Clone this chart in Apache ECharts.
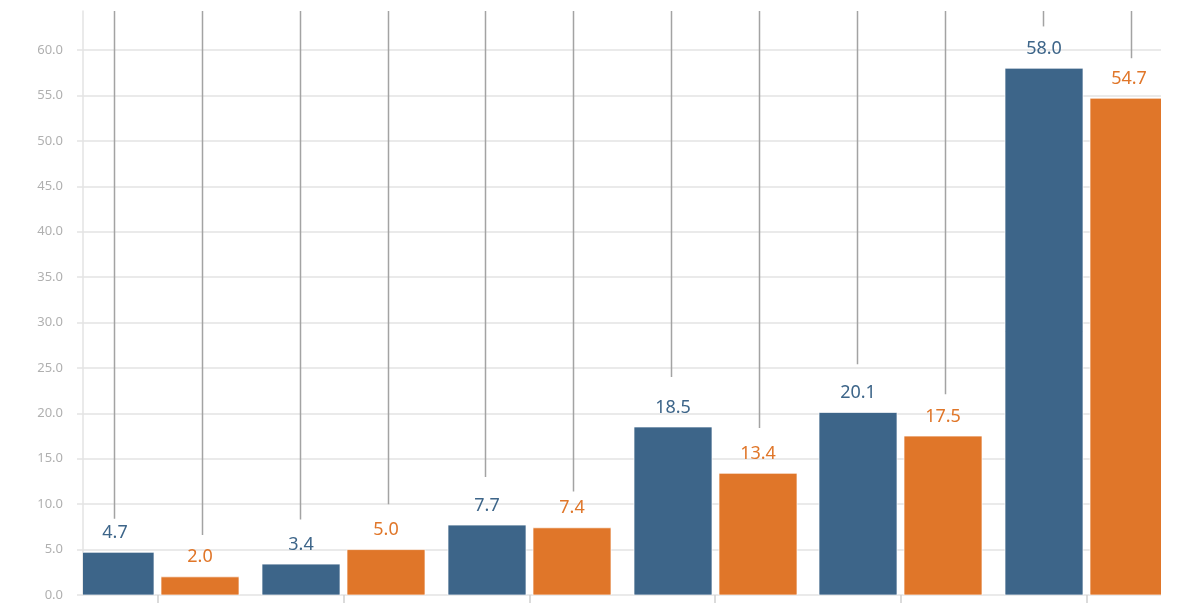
<!DOCTYPE html>
<html>
<head>
<meta charset="utf-8">
<script src="https://cdn.jsdelivr.net/npm/echarts@6/dist/echarts.min.js"></script>
<style>
html,body{margin:0;padding:0;background:#fff;}
#chart{width:1200px;height:615px;}
</style>
</head>
<body>
<div id="chart"></div>
<script>
// Groups (no visible category names in the reference)
const categories = ["G1", "G2", "G3", "G4", "G5", "G6"];
// Series values
const seriesA = [4.7, 3.4, 7.7, 18.5, 20.1, 58.0];
const seriesB = [2.0, 5.0, 7.4, 13.4, 17.5, 54.7];
// End values of the thin vertical guide lines
const guideA = [8.4, 8.3, 13.0, 24.0, 25.4, 62.6];
const guideB = [6.6, 10.0, 11.4, 18.4, 22.1, 59.1];
// Axis ranges
const yMin = 0, yMax = 64.3, yInterval = 5;
const xMin = -0.403, xMax = 5.40;

const BLUE = '#3d6589';
const ORANGE = '#e07629';
const BAR_W = 78, GAP = 7;
const OFF = (BAR_W + GAP) / 2;
const GUIDE_OFF = 44;
const labelFont = "'Noto Sans', 'Open Sans', sans-serif";

const idx = categories.map((c, i) => i);
const dataA = idx.map(i => [i, seriesA[i]]);
const dataB = idx.map(i => [i, seriesB[i]]);
const gA = idx.map(i => [i, guideA[i]]);
const gB = idx.map(i => [i, guideB[i]]);

function guideRenderer(offset) {
  return function (params, api) {
    const p = api.coord([api.value(0), api.value(1)]);
    const top = api.coord([api.value(0), yMax]);
    const x = Math.round(p[0] + offset) + 0.5;
    return {
      type: 'line',
      shape: { x1: x, y1: top[1], x2: x, y2: p[1] },
      style: { stroke: '#a3a3a3', lineWidth: 1.5 }
    };
  };
}

function barRenderer(offset, color) {
  return function (params, api) {
    const v = api.value(1);
    const p = api.coord([api.value(0), v]);
    const base = api.coord([api.value(0), 0]);
    const cx = p[0] + offset;
    return {
      type: 'rect',
      shape: { x: Math.round(cx - BAR_W / 2), y: p[1], width: BAR_W, height: base[1] - p[1] },
      style: { fill: color, stroke: 'rgba(255,255,255,0.7)', lineWidth: 1 },
      textContent: {
        style: {
          text: v.toFixed(1),
          fill: color,
          fontSize: 18,
          fontFamily: labelFont
        }
      },
      textConfig: { position: 'top', distance: 10 }
    };
  };
}

const chart = echarts.init(document.getElementById('chart'), null, { renderer: 'canvas' });
chart.setOption({
  animation: false,
  backgroundColor: '#ffffff',
  grid: { left: 83, right: 39, top: 11, bottom: 20, containLabel: false },
  xAxis: {
    type: 'value',
    min: xMin,
    max: xMax,
    axisLine: { show: false },
    splitLine: { show: false },
    axisLabel: { show: false },
    axisTick: {
      show: true,
      customValues: idx,
      length: 8,
      lineStyle: { color: '#d0d0d0', width: 1.5 }
    }
  },
  yAxis: {
    type: 'value',
    min: yMin,
    max: yMax,
    interval: yInterval,
    axisLine: { show: true, onZero: false, lineStyle: { color: '#e3e3e3', width: 1.5 } },
    axisTick: { show: true, length: 6, lineStyle: { color: '#e3e3e3', width: 1.5 } },
    splitLine: { show: true, showMaxLine: false, lineStyle: { color: '#e3e3e3', width: 1.5 } },
    axisLabel: {
      showMaxLabel: false,
      margin: 20,
      color: '#b0b0b0',
      fontSize: 13,
      fontFamily: labelFont,
      formatter: v => v.toFixed(1)
    }
  },
  series: [
    {
      type: 'custom',
      renderItem: guideRenderer(-GUIDE_OFF),
      data: gA,
      encode: { x: 0, y: 1 },
      clip: true,
      z: 1,
      silent: true
    },
    {
      type: 'custom',
      renderItem: guideRenderer(GUIDE_OFF),
      data: gB,
      encode: { x: 0, y: 1 },
      clip: true,
      z: 1,
      silent: true
    },
    {
      type: 'custom',
      renderItem: barRenderer(-OFF, BLUE),
      data: dataA,
      encode: { x: 0, y: 1 },
      clip: true,
      z: 2
    },
    {
      type: 'custom',
      renderItem: barRenderer(OFF, ORANGE),
      data: dataB,
      encode: { x: 0, y: 1 },
      clip: true,
      z: 2
    }
  ]
});
</script>
</body>
</html>
